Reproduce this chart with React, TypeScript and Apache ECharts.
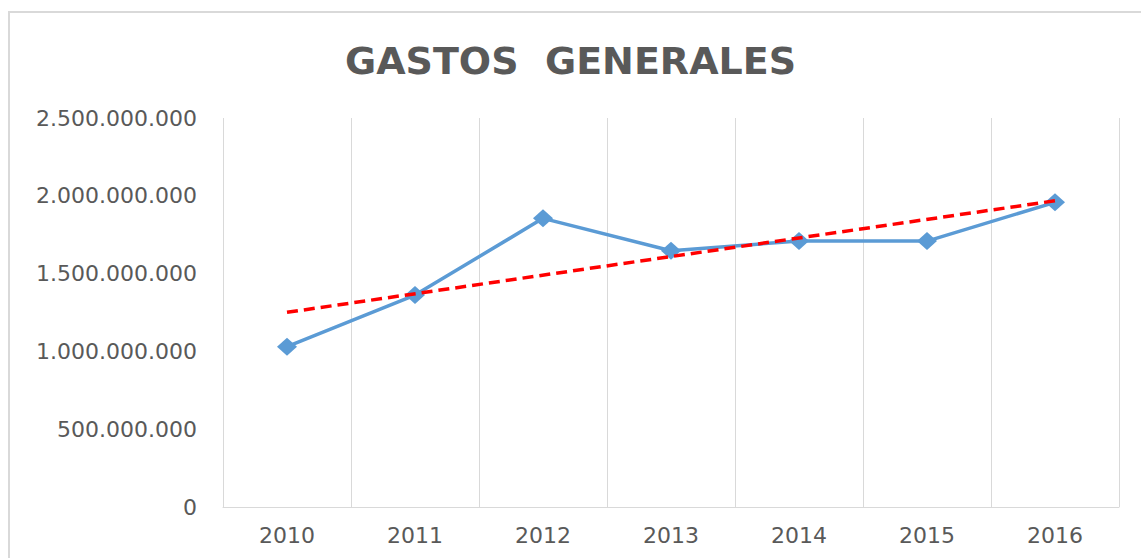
import React, { useEffect, useRef } from "react";
import * as echarts from "echarts";

const title = "GASTOS  GENERALES";
const years = ["2010", "2011", "2012", "2013", "2014", "2015", "2016"];
const gastos = [1030000000, 1362000000, 1855000000, 1647000000, 1709000000, 1709000000, 1958000000];
const trend = [1251000000, null, null, null, null, null, 1968000000];
const yTicks = { min: 0, max: 2500000000, interval: 500000000 };

const fmt = (v: number) => String(Math.round(v)).replace(/\B(?=(\d{3})+(?!\d))/g, ".");

export default function App() {
  const ref = useRef<HTMLDivElement>(null);
  useEffect(() => {
    document.body.style.margin = "0";
    const chart = echarts.init(ref.current!, null, { renderer: "svg" });
    chart.setOption({
      animation: false,
      backgroundColor: "#ffffff",
      title: {
        text: title,
        left: "center",
        top: 37,
        textStyle: {
          fontFamily: "DejaVu Sans",
          fontWeight: "bold",
          fontSize: 38,
          color: "#595959",
        },
      },
      graphic: [
        {
          type: "rect",
          shape: { x: 9, y: 12, width: 1150, height: 570 },
          style: { fill: "none", stroke: "#d9d9d9", lineWidth: 2 },
          silent: true,
          z: 0,
        },
      ],
      grid: { left: 223, right: 22, top: 118, bottom: 51 },
      xAxis: {
        type: "category",
        data: years,
        boundaryGap: true,
        axisLine: { show: true, lineStyle: { color: "#d9d9d9", width: 1 } },
        axisTick: { show: false },
        splitLine: { show: true, lineStyle: { color: "#d9d9d9", width: 1 } },
        axisLabel: {
          margin: 17,
          fontFamily: "DejaVu Sans",
          fontSize: 22,
          color: "#595959",
        },
      },
      yAxis: {
        type: "value",
        min: yTicks.min,
        max: yTicks.max,
        interval: yTicks.interval,
        axisLine: { show: false },
        axisTick: { show: false },
        splitLine: { show: false },
        axisLabel: {
          margin: 26,
          fontFamily: "DejaVu Sans",
          fontSize: 22,
          color: "#595959",
          formatter: (v: number) => fmt(v),
        },
      },
      series: [
        {
          name: "Gastos generales",
          type: "line",
          data: gastos,
          symbol: "diamond",
          symbolSize: [20, 18],
          itemStyle: { color: "#5b9bd5" },
          lineStyle: { color: "#5b9bd5", width: 3.5 },
          z: 2,
        },
        {
          name: "Tendencia",
          type: "line",
          data: trend,
          connectNulls: true,
          symbol: "none",
          lineStyle: { color: "#ff0000", width: 3.5, type: [11, 6] },
          z: 3,
        },
      ],
    });
    return () => chart.dispose();
  }, []);
  return <div ref={ref} style={{ width: 1141, height: 558 }} />;
}
